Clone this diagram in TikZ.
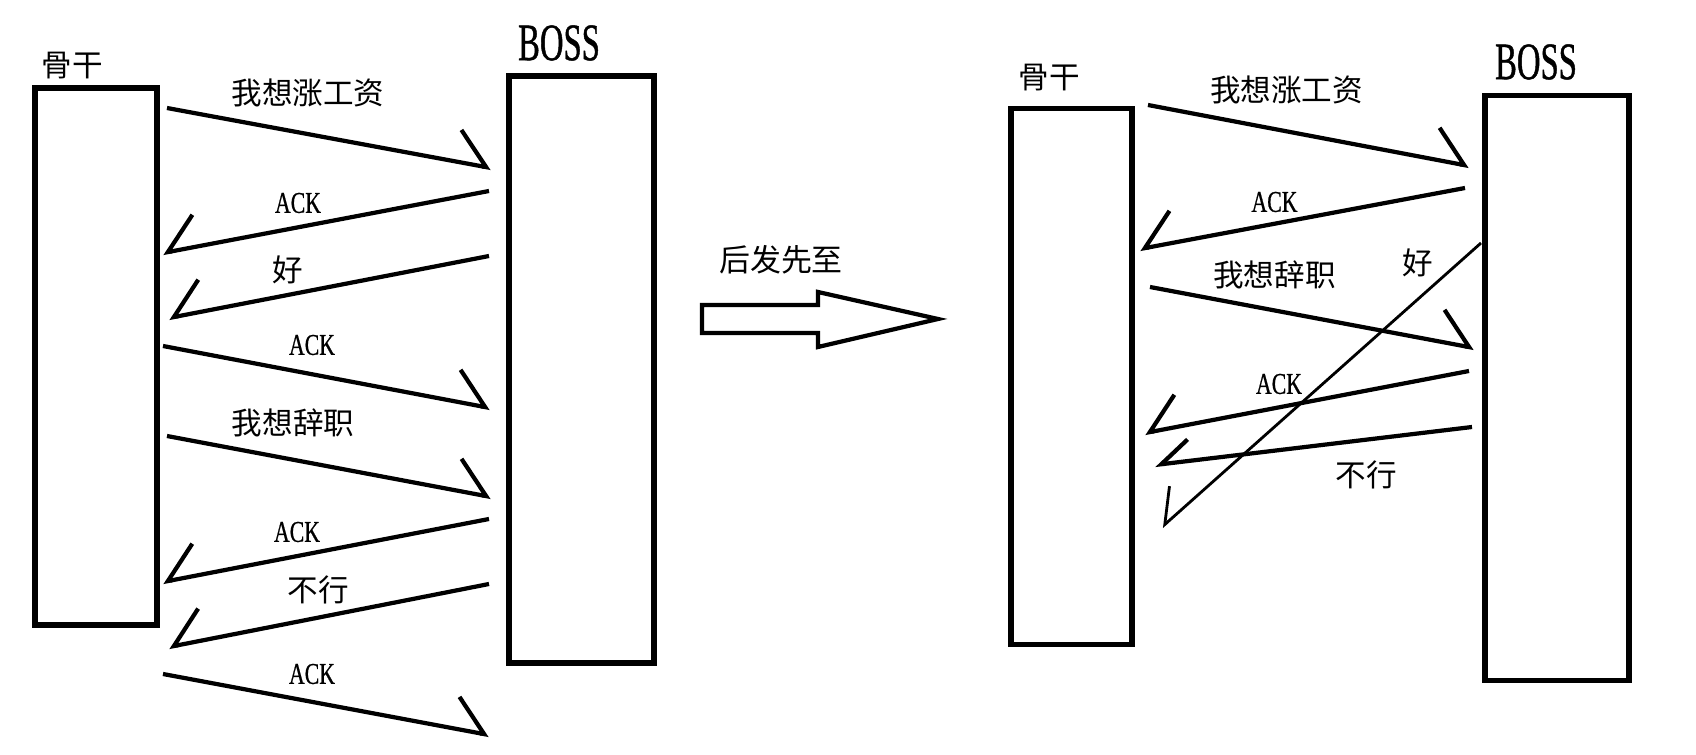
\documentclass[tikz,border=0pt]{standalone}
\usepackage{fontspec}
\usetikzlibrary{arrows.meta}
\newfontfamily\cjk{Noto Sans CJK SC}
\newfontfamily\narrowack[FakeStretch=0.72, FakeBold=0.6]{Liberation Serif}
\newfontfamily\narrowboss[FakeStretch=0.62, FakeBold=0.8]{Liberation Serif}

\begin{document}
\begin{tikzpicture}[
  x=0.01cm, y=-0.01cm,
  box/.style={draw, line width=1.6pt, inner sep=0pt},
  cn/.style={font=\cjk\fontsize{8.7pt}{10pt}\selectfont, inner sep=0pt},
  ack/.style={font=\narrowack\fontsize{8.6pt}{10pt}\selectfont, inner sep=0pt},
  boss/.style={font=\narrowboss\fontsize{15pt}{17pt}\selectfont, inner sep=0pt},
  tor/.style={line width=1.2pt, -{Straight Barb[harpoon, length=3.1mm, width=6.4mm]}},
  tol/.style={line width=1.2pt, -{Straight Barb[harpoon, swap, length=3.1mm, width=6.4mm]}},
]
  \useasboundingbox (0,0) rectangle (1696,755);

  % left: in order
  \node[box, minimum width=1.22cm, minimum height=5.37cm] (gbox1) at (96,356.5) {};
  \node[box, minimum width=1.45cm, minimum height=5.87cm] (bbox1) at (581.5,369.5) {};
  \node[cn] (gname1) at (72.5,66) {骨干};
  \node[boss] (bname1) at (559,43) {BOSS};

  \coordinate (l1a) at (167,108); \coordinate (l1b) at (491,168);
  \coordinate (l2a) at (489,191); \coordinate (l2b) at (163,253);
  \coordinate (l3a) at (489,256); \coordinate (l3b) at (169,318);
  \coordinate (l4a) at (163,346); \coordinate (l4b) at (490,408);
  \coordinate (l5a) at (167,436); \coordinate (l5b) at (491,497);
  \coordinate (l6a) at (489,519); \coordinate (l6b) at (163,582);
  \coordinate (l7a) at (489,584); \coordinate (l7b) at (169,647);
  \coordinate (l8a) at (163,674); \coordinate (l8b) at (489,735);

  \draw[tor] (l1a) -- (l1b);
  \draw[tol] (l2a) -- (l2b);
  \draw[tol] (l3a) -- (l3b);
  \draw[tor] (l4a) -- (l4b);
  \draw[tor] (l5a) -- (l5b);
  \draw[tol] (l6a) -- (l6b);
  \draw[tol] (l7a) -- (l7b);
  \draw[tor] (l8a) -- (l8b);

  \node[cn] (l1t) at (308,93) {我想涨工资};
  \node[ack] (l2t) at (298,203) {ACK};
  \node[cn] (l3t) at (288,270) {好};
  \node[ack] (l4t) at (312,345) {ACK};
  \node[cn] (l5t) at (293,423) {我想辞职};
  \node[ack] (l6t) at (297,532) {ACK};
  \node[cn] (l7t) at (318,590) {不行};
  \node[ack] (l8t) at (312,674) {ACK};

  % middle
  \node[cn, font=\cjk\fontsize{8.8pt}{10pt}\selectfont] (mid) at (781,260) {后发先至};
  \draw[line width=1.2pt] (702,305) -- (818,305) -- (818,292) -- (938,319)
    -- (818,347) -- (818,333) -- (702,333) -- cycle;

  % right: out of order
  \node[box, minimum width=1.21cm, minimum height=5.36cm] (gbox2) at (1071.5,376.5) {};
  \node[box, minimum width=1.44cm, minimum height=5.85cm] (bbox2) at (1557,388) {};
  \node[cn] (gname2) at (1049,78) {骨干};
  \node[boss] (bname2) at (1536,62) {BOSS};

  \coordinate (r1a) at (1148,105); \coordinate (r1b) at (1469,166);
  \coordinate (r2a) at (1465,188); \coordinate (r2b) at (1140,249);
  \coordinate (r3a) at (1150,287); \coordinate (r3b) at (1474,348);
  \coordinate (r4a) at (1481,243); \coordinate (r4b) at (1162,527);
  \coordinate (r5a) at (1469,371); \coordinate (r5b) at (1145,433);
  \coordinate (r6a) at (1472,427); \coordinate (r6b) at (1155,465);

  \draw[tor] (r1a) -- (r1b);
  \draw[tol] (r2a) -- (r2b);
  \draw[tor] (r3a) -- (r3b);
  \draw[line width=0.8pt, -{Straight Barb[harpoon, swap, length=2.9mm, width=5.1mm]}] (r4a) -- (r4b);
  \draw[tol] (r5a) -- (r5b);
  \draw[line width=1.2pt, -{Straight Barb[harpoon, swap, length=2.9mm, width=4.3mm]}] (r6a) -- (r6b);

  \node[cn] (r1t) at (1286.5,90) {我想涨工资};
  \node[ack] (r2t) at (1274.5,202) {ACK};
  \node[cn] (r3t) at (1274.5,275) {我想辞职};
  \node[cn] (r4t) at (1418,263) {好};
  \node[ack] (r5t) at (1279,384) {ACK};
  \node[cn] (r6t) at (1366,475) {不行};
\end{tikzpicture}
\end{document}
